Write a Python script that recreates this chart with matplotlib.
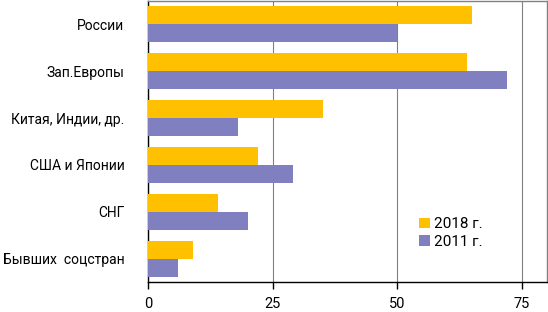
import matplotlib
matplotlib.use("Agg")
import matplotlib.pyplot as plt
import numpy as np

plt.rcParams['font.family'] = ['Roboto', 'DejaVu Sans']

categories = ["России", "Зап.Европы", "Китая, Индии, др.", "США и Японии", "СНГ", "Бывших  соцстран"]
v2018 = [65, 64, 35, 22, 14, 9]
v2011 = [50, 72, 18, 29, 20, 6]
xticks = [0, 25, 50, 75]

fig = plt.figure(figsize=(5.48, 3.12), dpi=100)
ax = fig.add_axes([148/548, 1 - 282/312, (547 - 148)/548, 281/312])

y = np.arange(len(categories))
h = 0.385
ax.barh(y - h/2, v2018, height=h, color="#FFC000", label="2018 г.", zorder=3)
ax.barh(y + h/2, v2011, height=h, color="#8080C0", label="2011 г.", zorder=3)

ax.set_ylim(len(categories) - 0.5, -0.5)
ax.set_xlim(0, 80)
ax.set_yticks(y)
ax.set_yticklabels(categories, fontsize=10)
ax.tick_params(axis='y', length=0, pad=17)
ax.set_xticks(xticks)
ax.tick_params(axis='x', length=5, width=1, labelsize=10.5, pad=6)
ax.grid(axis='x', color='#808080', linewidth=0.8, zorder=0)

for s in ['left', 'bottom']:
    ax.spines[s].set_color('black')
    ax.spines[s].set_linewidth(1)
for s in ['top', 'right']:
    ax.spines[s].set_color('#808080')
    ax.spines[s].set_linewidth(1)

ax.legend(loc='lower left', bbox_to_anchor=(0.66, 0.09), frameon=False,
          fontsize=11, handlelength=0.7, handleheight=0.7, handletextpad=0.3,
          labelspacing=0.25, borderpad=0)

fig.savefig("out.png", dpi=100)
